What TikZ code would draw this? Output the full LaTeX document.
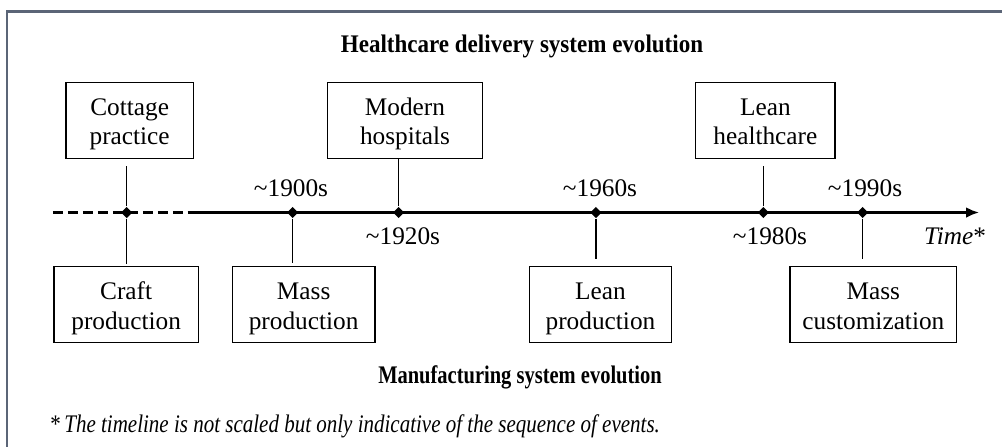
\documentclass[tikz,border=0pt]{standalone}
\usepackage{fontspec}
\setmainfont{Liberation Serif}
\usetikzlibrary{arrows.meta,shapes.geometric}
\definecolor{framegray}{HTML}{5B6577}
\begin{document}
\begin{tikzpicture}[
    font=\fontsize{12}{14.2}\selectfont,
    evbox/.style={draw,line width=0.6pt,minimum height=1.265cm,align=center,inner sep=0pt,
        text height=27pt,text depth=3.86pt},
    evdot/.style={diamond,fill=black,inner sep=0pt,minimum size=0.19cm},
    evline/.style={line width=0.5pt},
    axis/.style={line width=1.3pt},
    yearlbl/.style={anchor=base,inner sep=0pt},
    title/.style={yearlbl,font=\fontsize{12}{14.2}\selectfont\bfseries,transform shape}
]
    \useasboundingbox (0,0) rectangle (16.7,7.45);
    \draw[framegray,line width=1pt] (0.117,0) -- (0.117,7.258) -- (16.7,7.258);
    \coordinate (tstart) at (0.883,3.908);
    \coordinate (dashend) at (3.283,3.908);
    \coordinate (solidstart) at (3.17,3.908);
    \coordinate (tend) at (16.32,3.908);
    \draw[axis,dash pattern=on 4.7pt off 2.4pt] (tstart) -- (dashend);
    \draw[axis,-{Latex[length=0.22cm,width=0.18cm]}] (solidstart) -- (tend);
    \node[evbox,minimum width=2.122cm] (cottage) at (2.161,5.44) {Cottage\\practice};
    \node[evbox,minimum width=2.59cm] (modern) at (6.75,5.44) {Modern\\hospitals};
    \node[evbox,minimum width=2.322cm] (leanhc) at (12.756,5.44) {Lean\\healthcare};
    \node[evbox,minimum width=2.405cm] (craft) at (2.103,2.373) {Craft\\production};
    \node[evbox,minimum width=2.378cm] (massprod) at (5.061,2.373) {Mass\\production};
    \node[evbox,minimum width=2.373cm] (leanprod) at (10.008,2.373) {Lean\\production};
    \node[evbox,minimum width=2.778cm] (masscust) at (14.556,2.373) {Mass\\customization};
    \node[evdot] (d0) at (2.112,3.908) {};
    \node[evdot] (d1900) at (4.878,3.908) {};
    \node[evdot] (d1920) at (6.645,3.908) {};
    \node[evdot] (d1960) at (9.933,3.908) {};
    \node[evdot] (d1980) at (12.722,3.908) {};
    \node[evdot] (d1990) at (14.378,3.908) {};
    \draw[evline,shorten >=0.117cm] (d0) -- (d0 |- cottage.south);
    \draw[evline,shorten >=0.033cm] (d0) -- (d0 |- craft.north);
    \draw[evline,shorten >=0.05cm] (d1900) -- (d1900 |- massprod.north);
    \draw[evline] (d1920) -- (d1920 |- modern.south);
    \draw[evline,shorten >=0.117cm] (d1960) -- (d1960 |- leanprod.north);
    \draw[evline,shorten >=0.117cm] (d1980) -- (d1980 |- leanhc.south);
    \draw[evline,shorten >=0.117cm] (d1990) -- (d1990 |- masscust.north);
    \node[yearlbl] (l1900) at (4.85,4.172) {\textasciitilde1900s};
    \node[yearlbl] (l1920) at (6.717,3.367) {\textasciitilde1920s};
    \node[yearlbl] (l1960) at (10.0,4.172) {\textasciitilde1960s};
    \node[yearlbl] (l1980) at (12.833,3.367) {\textasciitilde1980s};
    \node[yearlbl] (l1990) at (14.417,4.172) {\textasciitilde1990s};
    \node[yearlbl] (ltime) at (15.917,3.367) {\textit{Time}*};
    \node[title,xscale=0.91] (hctitle) at (8.7,6.572) {Healthcare delivery system evolution};
    \node[title,xscale=0.81] (mftitle) at (8.667,1.062) {Manufacturing system evolution};
    \node[anchor=base west,inner sep=0pt,xscale=0.83,transform shape] (note) at (0.833,0.242) {*\,\textit{The timeline is not scaled but only indicative of the sequence of events.}};
\end{tikzpicture}
\end{document}
